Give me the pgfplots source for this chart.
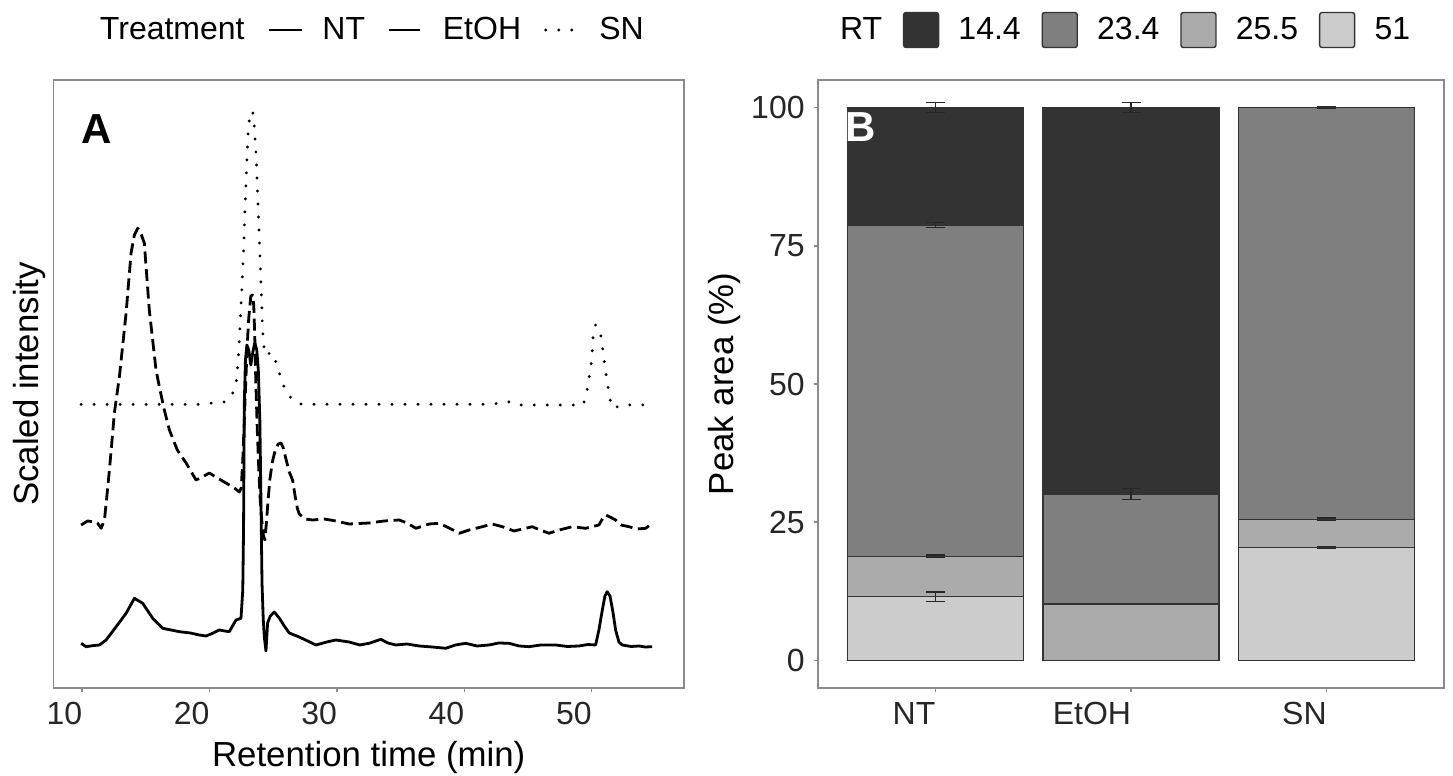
\documentclass[border=0pt]{standalone}
\usepackage{pgfplots}
\pgfplotsset{compat=1.18}
\usepackage{fontspec}
\setmainfont{Liberation Sans}
\definecolor{c144}{HTML}{333333}
\definecolor{c234}{HTML}{7F7F7F}
\definecolor{c255}{HTML}{ABABAB}
\definecolor{c51}{HTML}{CCCCCC}
\definecolor{framecol}{HTML}{8A8A8A}
\definecolor{barborder}{HTML}{333333}
\pgfplotsset{
  boxlegend/.style={legend image code/.code={\draw[##1, rounded corners=1.2pt] (0pt,-8.75pt) rectangle (17.5pt,8.75pt);}},
  linelegend/.style={legend image code/.code={\draw[##1] (0pt,0pt) -- (16.5pt,0pt);}},
  dashlegend/.style={legend image code/.code={\draw[##1, dash pattern=on 15.5pt off 5pt] (0pt,0pt) -- (16.5pt,0pt);}},
  myaxis/.style={
    scale only axis,
    font=\fontsize{16}{19}\selectfont,
    axis line style={draw=framecol, line width=0.75pt},
    tick style={draw=framecol, line width=0.75pt},
    tick align=outside,
    major tick length=2.2pt,
    xtick pos=bottom, ytick pos=left,
    /pgf/number format/assume math mode=true,
    tick label style={text=black!85, inner sep=0pt},
    xticklabel style={anchor=north east, xshift=0.2pt},
    yticklabel style={anchor=east},
    xticklabel shift=4.65pt,
    yticklabel shift=4.3pt,
    legend cell align=left,
    label style={font=\fontsize{17.4}{20}\selectfont},
  }
}
\begin{document}
\begin{tikzpicture}
\useasboundingbox (0,0) rectangle (726.5pt,388pt);
% ---------------- Panel A ----------------
\begin{axis}[myaxis,
  at={(26.75pt,44pt)}, anchor=south west,
  width=315.25pt, height=304pt,
  xmin=7.75, xmax=57.25, ymin=0, ymax=608,
  xtick={10,20,30,40,50}, ytick=\empty,
  xlabel={Retention time (min)},
  xlabel style={at={(axis description cs:0.5,0)}, anchor=north, inner sep=0pt, yshift=-26.3pt},
  ylabel={Scaled intensity},
  ylabel style={at={(axis description cs:-0.0373,0.5)}, anchor=center, rotate=0, inner sep=0pt},
  legend style={at={(axis description cs:0.0436,1.0822)}, anchor=west, draw=none, fill=none,
    inner sep=0pt, outer sep=0pt, nodes={inner sep=0pt}, font=\fontsize{16}{19}\selectfont,
    /tikz/every odd column/.append style={column sep=9.5pt},
    /tikz/every even column/.append style={column sep=11.5pt}},
  legend columns=-1,
  linelegend,
]
\addlegendimage{empty legend}
\addlegendentry{Treatment}
% NT (solid)
\addplot[black, line width=1.4pt, line join=round] table {
9.92 44.7
10.31 41.3
10.81 42.3
11.36 43
11.88 48
12.67 61.3
13.45 74.7
14.10 89.7
14.75 84.7
15.54 69.7
16.32 59.7
17.63 56.3
18.50 55
19.19 53
19.73 52
20.30 55
20.77 58
21.20 57
21.55 56.3
22.08 68
22.47 69.7
22.61 98
22.67 158
22.73 285
22.82 328
22.93 343
23.08 338
23.24 323
23.40 336
23.55 345
23.71 338
23.83 318
23.95 268
24.04 185
24.12 105
24.22 68
24.30 51.3
24.43 37
24.56 65
24.77 72
25.08 76
25.47 70
25.87 62
26.26 55
27.04 51
27.70 47
28.35 43
29.20 46
29.92 48
30.96 46
31.80 43
32.53 44.7
33.45 48.7
34.00 45
34.63 43
35.50 44
36.45 42
37.50 41
38.55 39.7
39.30 43
40.12 44.7
41.00 42
41.95 43
42.70 45
43.51 44.7
44.30 42
45.08 41.3
46.00 43
47.18 43
48.10 41.5
49.00 42
49.70 43.5
50.31 43
50.57 58
50.81 76
51.04 92
51.22 96.3
51.44 92
51.67 76
51.88 58
52.14 46
52.40 43
53.10 41.5
53.71 42
54.20 41
54.75 41.3
};
\addlegendentry{NT}
% EtOH (dashed)
\addplot[black, line width=1.4pt, dash pattern=on 6pt off 2.8pt, line join=round, dashlegend] table {
9.92 163
10.42 167
10.83 166.3
11.20 165
11.49 159.7
11.75 168
11.91 188
12.14 218
12.53 275
12.93 312
13.45 375
13.84 435
14.10 453
14.36 459.7
14.57 456
14.88 445
15.27 378
15.80 318
16.06 301.3
16.45 278
16.85 258
17.47 238
18.16 225
18.94 208
19.44 211
19.98 215
20.61 210
21.29 205
21.95 200
22.34 196
22.49 200
22.61 228
22.73 268
22.85 308
22.96 343
23.08 370
23.24 392
23.38 393
23.47 383
23.55 353
23.63 308
23.75 258
23.87 218
23.98 188
24.10 168
24.22 153
24.34 148
24.45 163
24.57 183
24.73 208
24.93 226
25.16 238
25.40 244
25.61 245
25.79 240
26.02 228
26.26 216
26.52 208
26.73 191
26.89 180
27.04 174
27.51 169
28.09 168
29.00 169
29.92 167
30.96 164
32.53 165
33.71 167
34.89 168
35.51 165
36.20 159.7
37.24 164
38.03 164.7
38.81 160
39.60 154.7
40.38 158
41.42 161.3
42.18 164
42.99 161.3
43.91 157
45.34 161.3
45.95 158
46.65 154.7
47.44 158
48.48 161.3
49.53 159.7
50.57 163
50.89 170
51.10 173
51.44 171
51.88 168
52.30 163
52.93 161.3
53.55 159
54.24 159.7
54.75 164.7
};
\addlegendentry{EtOH}
% SN (dotted)
\addplot[black, line width=1.6pt, dash pattern=on 0pt off 6.5pt, line cap=round, line join=round] table {
9.92 283.7
15.28 283.7
19.20 283.7
21.29 286.3
21.55 290
21.87 296
22.08 303
22.22 323
22.34 348
22.45 378
22.57 408
22.69 443
22.81 488
22.93 528
23.04 558
23.16 573
23.28 577
23.40 575
23.51 563
23.63 538
23.75 503
23.87 463
23.97 428
24.06 398
24.16 358
24.30 338
24.53 332
24.77 336
25.00 333
25.24 325
25.48 315
25.79 303
26.18 293
26.57 288
27.04 284
27.83 283.7
34.89 283.7
41.95 283.7
42.73 284.7
43.65 286.3
44.30 283
49.32 283
49.58 293
49.73 304.7
49.87 316.3
50.00 328
50.12 353
50.31 363
50.63 359.7
50.78 348
50.89 336.3
51.02 324.7
51.14 313
51.28 301.3
51.41 289.7
51.67 279.7
52.40 283
54.75 283
};
\addlegendentry{SN}
\node[font=\fontsize{21}{24}\selectfont\bfseries] at (axis cs:11.16,559) {A};
\end{axis}
% ---------------- Panel B ----------------
\begin{axis}[myaxis,
  at={(409pt,44pt)}, anchor=south west,
  width=313pt, height=304pt,
  xmin=0.4, xmax=3.6, ymin=-5, ymax=105,
  ybar stacked, bar width=0.9,
  xtick={1,2,3}, xticklabels={NT,EtOH,SN},
  ytick={0,25,50,75,100},
  ylabel={Peak area (\%)},
  ylabel style={at={(axis description cs:-0.150,0.5)}, anchor=center, rotate=0, inner sep=0pt},
  reverse legend,
  legend style={at={(axis description cs:0.0045,1.0822)}, anchor=west, draw=none, fill=none,
    inner sep=0pt, outer sep=0pt, nodes={inner sep=0pt}, font=\fontsize{16}{19}\selectfont,
    /tikz/every odd column/.append style={column sep=9.6pt},
    /tikz/every even column/.append style={column sep=10.4pt}},
  legend columns=-1,
]
\addplot[fill=c51, draw=barborder, line width=0.7pt, boxlegend]
  coordinates {(1,11.5) (2,0) (3,20.4)};
\addlegendentry{51}
\addplot[fill=c255, draw=barborder, line width=0.7pt, boxlegend]
  coordinates {(1,7.3) (2,10.2) (3,5.1)};
\addlegendentry{25.5}
\addplot[fill=c234, draw=barborder, line width=0.7pt, boxlegend]
  coordinates {(1,60.0) (2,19.9) (3,74.5)};
\addlegendentry{23.4}
\addplot[fill=c144, draw=barborder, line width=0.7pt, boxlegend]
  coordinates {(1,21.2) (2,69.9) (3,0)};
\addlegendentry{14.4}
\addlegendimage{empty legend}
\addlegendentry{RT}
\end{axis}
% error bars overlay
\begin{axis}[scale only axis,
  at={(409pt,44pt)}, anchor=south west,
  width=313pt, height=304pt,
  xmin=0.4, xmax=3.6, ymin=-5, ymax=105, hide axis]
\addplot[draw=none, mark=none, forget plot,
  error bars/.cd, y dir=both, y explicit,
  error bar style={draw=black!85, line width=0.6pt},
  error mark options={draw=black!85, line width=0.6pt, mark size=4.75pt, rotate=90}]
  table[x=x, y=y, y error=e] {
x y e
1 11.5 0.85
1 18.8 0.25
1 78.8 0.45
1 100 0.9
2 30.1 1.0
2 100 0.9
3 20.4 0.2
3 25.5 0.25
3 100 0.2
};
\node[text=white, font=\fontsize{21}{24}\selectfont\bfseries] at (axis cs:0.617,96.5) {B};
\end{axis}
\end{tikzpicture}
\end{document}
